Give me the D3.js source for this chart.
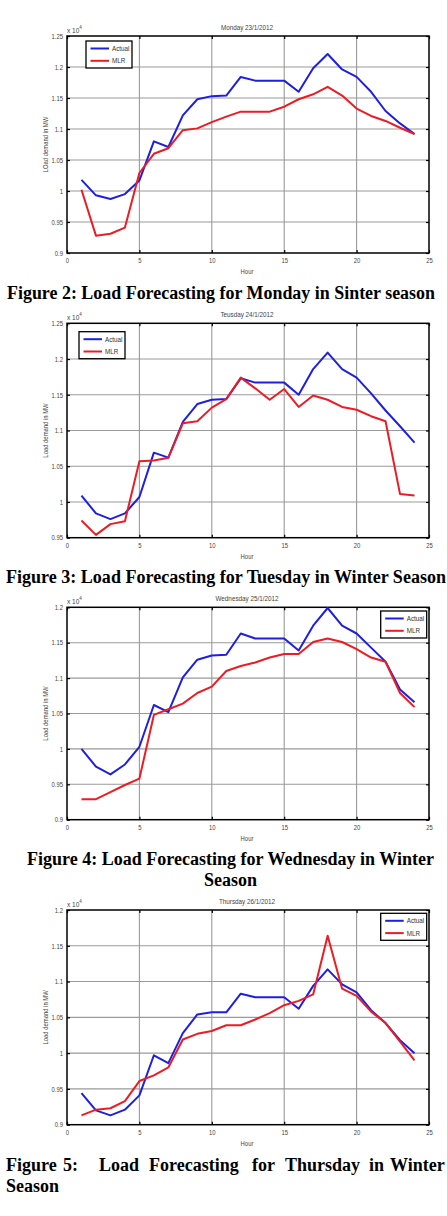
<!DOCTYPE html>
<html>
<head>
<meta charset="utf-8">
<script src="https://cdn.jsdelivr.net/npm/d3@7"></script>
<style>
  body { margin: 0; background: #fff; }
  svg { display: block; }
  .tick text { fill: #444; }
</style>
</head>
<body>
<svg id="chart" width="447" height="1216"></svg>
<script>
// hours on the x axis
const hours = [1,2,3,4,5,6,7,8,9,10,11,12,13,14,15,16,17,18,19,20,21,22,23,24];
const xTicks = [0,5,10,15,20,25];
const seriesNames = ['Actual', 'MLR'];

// load values, in units of 10^4 MW
const mondayActual = [1.018,0.993,0.987,0.995,1.017,1.080,1.071,1.122,1.148,1.153,1.154,1.184,1.178,1.178,1.178,1.160,1.198,1.221,1.196,1.184,1.160,1.129,1.109,1.092];
const mondayMLR    = [1.002,0.928,0.931,0.941,1.029,1.060,1.069,1.098,1.101,1.111,1.120,1.128,1.128,1.128,1.136,1.148,1.156,1.168,1.154,1.133,1.121,1.113,1.102,1.092];

const tuesdayActual = [1.009,0.984,0.976,0.984,1.007,1.069,1.062,1.112,1.137,1.143,1.144,1.173,1.167,1.167,1.167,1.150,1.186,1.209,1.186,1.174,1.152,1.128,1.106,1.083];
const tuesdayMLR    = [0.974,0.954,0.969,0.973,1.057,1.058,1.062,1.110,1.113,1.132,1.144,1.174,1.159,1.143,1.158,1.133,1.149,1.143,1.133,1.129,1.120,1.113,1.011,1.009];

const wednesdayActual = [1.000,0.975,0.964,0.978,1.003,1.062,1.052,1.101,1.126,1.132,1.133,1.163,1.156,1.156,1.156,1.139,1.174,1.199,1.174,1.163,1.143,1.123,1.084,1.066];
const wednesdayMLR    = [0.929,0.929,0.939,0.949,0.958,1.048,1.056,1.064,1.079,1.088,1.110,1.117,1.122,1.129,1.134,1.134,1.151,1.156,1.151,1.141,1.129,1.123,1.079,1.059];

const thursdayActual = [0.944,0.920,0.913,0.921,0.941,0.997,0.986,1.028,1.054,1.057,1.057,1.083,1.078,1.078,1.078,1.062,1.094,1.117,1.096,1.085,1.060,1.042,1.018,1.000];
const thursdayMLR    = [0.913,0.921,0.923,0.933,0.961,0.969,0.980,1.019,1.027,1.031,1.039,1.039,1.047,1.056,1.067,1.073,1.082,1.164,1.090,1.080,1.058,1.042,1.016,0.990];

const yTicks1 = [0.9,0.95,1,1.05,1.1,1.15,1.2,1.25];
const yTicks2 = [0.95,1,1.05,1.1,1.15,1.2,1.25];
const yTicks3 = [0.9,0.95,1,1.05,1.1,1.15,1.2];

const titles = ['Monday 23/1/2012', 'Teusday 24/1/2012', 'Wednesday 25/1/2012', 'Thursday 26/1/2012'];
const yLabels = ['LOad demand in MW', 'Load demand in MW', 'Load demand in MW', 'Load demand in MW'];

const chartHelpers = {
  left: 67,
  right: 429,
  colors: ['#1f1fe0', '#ec1c24'],
  grid: '#9a9a9a',
  smallFont: '"Liberation Sans", Arial, sans-serif',
  serif: '"Liberation Serif", "Times New Roman", serif',
  squeeze: 0.84
};

const panels = [
  { top: 36,    bottom: 253,   ticks: yTicks1, series: [mondayActual, mondayMLR],       legendX: 86,    legendY: 41 },
  { top: 323.3, bottom: 537.7, ticks: yTicks2, series: [tuesdayActual, tuesdayMLR],     legendX: 79,    legendY: 331.7 },
  { top: 607.3, bottom: 819.7, ticks: yTicks3, series: [wednesdayActual, wednesdayMLR], legendX: 380.7, legendY: 611 },
  { top: 910,   bottom: 1124.7,ticks: yTicks3, series: [thursdayActual, thursdayMLR],   legendX: 380.7, legendY: 913.3 }
];

const svg = d3.select('#chart');

const x = d3.scaleLinear()
  .domain([0, 25])
  .range([chartHelpers.left, chartHelpers.right]);

// the matlab export uses a narrow font, squeeze the small texts a bit
function narrow(sel) {
  sel.each(function() {
    const w = this.getComputedTextLength();
    if (w > 0) d3.select(this)
      .attr('textLength', w * chartHelpers.squeeze)
      .attr('lengthAdjust', 'spacingAndGlyphs');
  });
}

function smallText(g, txt, size) {
  return g.append('text')
    .style('font-family', chartHelpers.smallFont)
    .style('font-size', (size || 7) + 'px')
    .attr('fill', '#444')
    .text(txt);
}

function drawPanel(p, i) {
  const g = svg.append('g').attr('class', 'panel-' + i);
  const y = d3.scaleLinear()
    .domain([p.ticks[0], p.ticks[p.ticks.length - 1]])
    .range([p.bottom, p.top]);

  // grid
  g.append('g').selectAll('line')
    .data(xTicks.slice(1, -1))
    .enter().append('line')
      .attr('x1', d => x(d)).attr('x2', d => x(d))
      .attr('y1', p.top).attr('y2', p.bottom)
      .attr('stroke', chartHelpers.grid)
      .attr('stroke-width', 1.1);
  g.append('g').selectAll('line')
    .data(p.ticks.slice(1, -1))
    .enter().append('line')
      .attr('x1', chartHelpers.left).attr('x2', chartHelpers.right)
      .attr('y1', d => y(d)).attr('y2', d => y(d))
      .attr('stroke', chartHelpers.grid)
      .attr('stroke-width', 1.1);

  // axes with inward ticks
  const xAxis = d3.axisBottom(x).tickValues(xTicks).tickSizeInner(-3).tickSizeOuter(0)
    .tickPadding(5).tickFormat(d => d);
  const xTop = d3.axisTop(x).tickValues(xTicks).tickSizeInner(-3).tickSizeOuter(0).tickFormat('');
  const yAxis = d3.axisLeft(y).tickValues(p.ticks).tickSizeInner(-3).tickSizeOuter(0)
    .tickPadding(4).tickFormat(d => String(d));
  const yRight = d3.axisRight(y).tickValues(p.ticks).tickSizeInner(-3).tickSizeOuter(0).tickFormat('');

  const axes = [
    g.append('g').attr('transform', 'translate(0,' + p.bottom + ')').call(xAxis),
    g.append('g').attr('transform', 'translate(0,' + p.top + ')').call(xTop),
    g.append('g').attr('transform', 'translate(' + chartHelpers.left + ',0)').call(yAxis),
    g.append('g').attr('transform', 'translate(' + chartHelpers.right + ',0)').call(yRight)
  ];
  axes.forEach(a => {
    a.select('.domain').remove();
    a.selectAll('.tick line').attr('stroke', '#000').attr('stroke-width', 1.2);
    a.selectAll('.tick text')
      .style('font-family', chartHelpers.smallFont)
      .style('font-size', '7px')
      .call(narrow);
  });

  // frame
  g.append('rect')
    .attr('x', chartHelpers.left).attr('y', p.top)
    .attr('width', chartHelpers.right - chartHelpers.left)
    .attr('height', p.bottom - p.top)
    .attr('fill', 'none')
    .attr('stroke', '#000')
    .attr('stroke-width', 1.5);

  // series
  const line = d3.line()
    .x((d, k) => x(hours[k]))
    .y(d => y(d));
  p.series.forEach((s, k) => {
    g.append('path')
      .datum(s)
      .attr('d', line)
      .attr('fill', 'none')
      .attr('stroke', chartHelpers.colors[k])
      .attr('stroke-width', 2)
      .attr('stroke-linejoin', 'round');
  });

  // texts
  smallText(g, titles[i], 7.5)
    .attr('x', 247).attr('y', p.top - 6)
    .attr('text-anchor', 'middle')
    .call(narrow);

  const mult = smallText(g, '', 6.5)
    .attr('x', chartHelpers.left).attr('y', p.top - 3.5);
  mult.append('tspan').text('x 10');
  mult.append('tspan').attr('dy', -4).style('font-size', '4.5px').text('4');

  smallText(g, yLabels[i], 7)
    .attr('transform', 'translate(48,' + ((p.top + p.bottom) / 2) + ') rotate(-90)')
    .attr('text-anchor', 'middle')
    .call(narrow);

  smallText(g, 'Hour', 7)
    .attr('x', 247).attr('y', p.bottom + 21)
    .attr('text-anchor', 'middle')
    .call(narrow);

  // legend
  const lg = g.append('g').attr('transform', 'translate(' + p.legendX + ',' + p.legendY + ')');
  lg.append('rect')
    .attr('width', 46).attr('height', 27)
    .attr('fill', '#fff')
    .attr('stroke', '#000')
    .attr('stroke-width', 1.3);
  seriesNames.forEach((name, k) => {
    const yy = 7.5 + k * 12.3;
    lg.append('line')
      .attr('x1', 4.5).attr('x2', 23)
      .attr('y1', yy).attr('y2', yy)
      .attr('stroke', chartHelpers.colors[k])
      .attr('stroke-width', 2);
    smallText(lg, name, 7.5)
      .attr('x', 26).attr('y', yy + 2.6)
      .attr('fill', '#333')
      .call(narrow);
  });
}

panels.forEach(drawPanel);

// captions
function caption(text, xPos, yPos, width, anchor) {
  const t = svg.append('text')
    .attr('x', xPos).attr('y', yPos)
    .attr('text-anchor', anchor || 'start')
    .style('font-family', chartHelpers.serif)
    .style('font-weight', 'bold')
    .style('font-size', '18px')
    .attr('fill', '#000')
    .text(text);
  if (width) t.attr('textLength', width).attr('lengthAdjust', 'spacingAndGlyphs');
  return t;
}

caption('Figure 2: Load Forecasting for Monday in Sinter season', 7, 299, 428);
caption('Figure 3: Load Forecasting for Tuesday in Winter Season', 6, 582.5, 440);
caption('Figure 4: Load Forecasting for Wednesday in Winter', 27, 865, 407);
caption('Season', 230.5, 886, null, 'middle');

// justified line of the last caption
const words5 = ['Figure', '5:', 'Load', 'Forecasting', 'for', 'Thursday', 'in', 'Winter'];
const wordX5 = [6, 63, 99, 149, 252, 285, 369, 390];
const c5 = svg.append('text')
  .attr('y', 1171)
  .style('font-family', chartHelpers.serif)
  .style('font-weight', 'bold')
  .style('font-size', '18px')
  .attr('fill', '#000');
words5.forEach((w, k) => c5.append('tspan').attr('x', wordX5[k]).text(w));
caption('Season', 6, 1191.5);
</script>
</body>
</html>
